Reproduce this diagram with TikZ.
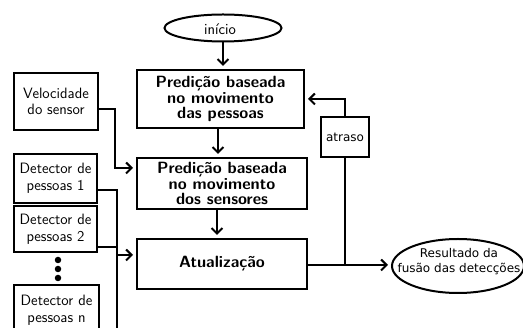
\documentclass[tikz,border=0pt]{standalone}
\usepackage{fontspec}
\newfontfamily\dejavu{DejaVu Sans}
\usetikzlibrary{shapes.geometric,arrows.meta}
\begin{document}
\begin{tikzpicture}[x=1pt,y=-1pt,
  box/.style={draw,line width=2pt,rectangle,inner sep=0pt,align=center},
  mainbox/.style={box,font=\sffamily\bfseries\fontsize{16.3}{15.3}\selectfont},
  sidebox/.style={box,font=\sffamily\fontsize{15}{16.7}\selectfont},
  oval/.style={draw,line width=2pt,ellipse,inner sep=0pt},
  conn/.style={line width=2pt},
  arr/.style={conn,-{Straight Barb[length=5.5pt,width=11pt]},shorten >=3pt},
  dot/.style={circle,fill,inner sep=0pt,minimum size=6.5pt}
]
\useasboundingbox (0,0) rectangle (523,328);

% start
\node[oval,minimum width=117pt,minimum height=27pt] (inicio) at (223,28) {};
\node[font=\sffamily\fontsize{15.5}{17}\selectfont] (tinicio) at (220,29) {início};

% main column
\node[mainbox,minimum width=167pt,minimum height=58pt] (b1) at (220.5,99)
  {Predição baseada\\no movimento\\das pessoas};
\node[mainbox,minimum width=170pt,minimum height=51pt] (b2) at (222,183.5)
  {Predição baseada\\no movimento\\dos sensores};
\node[mainbox,minimum width=170pt,minimum height=50pt] (b3) at (222,264)
  {Atualização};

% left column
\node[sidebox,minimum width=84pt,minimum height=57pt] (vel) at (56,101.5)
  {Velocidade\\do sensor};
\node[sidebox,minimum width=83pt,minimum height=49pt] (d1) at (55.5,178.5)
  {Detector de\\pessoas 1};
\node[sidebox,minimum width=83pt,minimum height=46pt] (d2) at (55.5,229)
  {Detector de\\pessoas 2};
\node[sidebox,minimum width=85pt,minimum height=50pt] (dn) at (56.5,310)
  {Detector de\\pessoas n};
\node[dot] (k1) at (58,260) {};
\node[dot] (k2) at (58,269) {};
\node[dot] (k3) at (58,278) {};

% delay and result
\node[box,minimum width=48pt,minimum height=40pt,font=\dejavu\fontsize{12}{15}\selectfont] (atr) at (345,137) {atraso};
\node[oval,minimum width=132pt,minimum height=54pt] (res) at (458,266) {};
\node[align=center,font=\dejavu\fontsize{12}{15}\selectfont] (tres) at (459,262)
  {Resultado da\\fusão das detecções};

% turn points
\coordinate (v1) at (115,168);
\coordinate (bustop) at (117,190);
\coordinate (busd2) at (117,247);
\coordinate (busin) at (117,255);
\coordinate (busbot) at (117,340);
\coordinate (j) at (345,265);

% connectors
\draw[arr] (inicio.south) -- (inicio.south |- b1.north);
\draw[arr] (b1.south -| 218,0) -- (b2.north -| 218,0);
\draw[arr] (b2.south -| 217,0) -- (b3.north -| 217,0);
\draw[arr] ([yshift=-7.5pt]vel.east) -| (v1) -- (v1 -| b2.west);
\draw[conn] ([yshift=-11.5pt]d1.east) -- (bustop) -- (busbot);
\draw[conn] ([yshift=-18pt]d2.east) -- (busd2);
\draw[conn] ([yshift=-22pt]dn.east) -- (busbot |- 0,332);
\draw[arr] (busin) -- (busin -| b3.west);
\draw[arr] (b3.east |- j) -- (j -| res.west);
\draw[conn] (atr.south) -- (j);
\draw[arr] (atr.north) |- (b1.east);
\end{tikzpicture}
\end{document}
